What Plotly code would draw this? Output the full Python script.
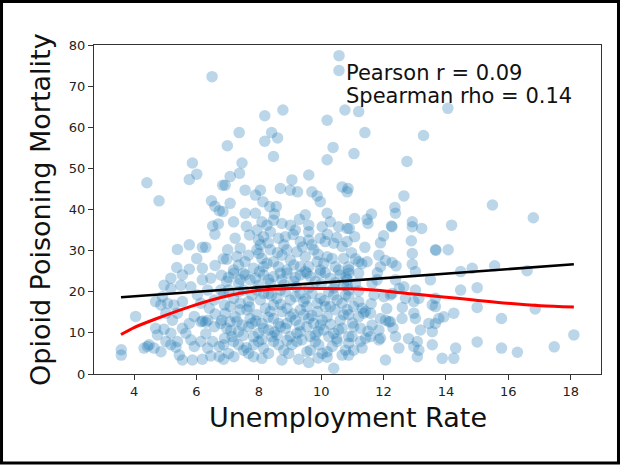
import plotly.graph_objects as go

# ---- data (unemployment rate, opioid poisoning mortality) ----
points_top = [
    (10.57, 77.4), (10.57, 73.8), (6.5, 72.3), (8.77, 64.2), (10.76, 64.2), (11.2, 63.8),
    (14.06, 64.6), (8.19, 62.8), (10.19, 61.7), (7.37, 58.7), (8.41, 58.7), (11.4, 58.7),
    (13.28, 58.0), (8.19, 56.6), (8.6, 57.4), (6.99, 55.5), (10.38, 55.1), (8.47, 52.9),
    (11.05, 53.6), (10.19, 52.1), (12.75, 51.7), (5.87, 51.3), (7.46, 51.3),
]

points_far_right = [
    (15.49, 41.1), (16.8, 38.0), (15.56, 26.3), (16.6, 25.1), (15.0, 21.0), (15.0, 16.2),
    (16.86, 15.8), (15.78, 13.5), (18.1, 9.5), (15.0, 7.8), (15.78, 6.3), (16.29, 5.3),
    (17.47, 6.6),
]

points_left_upper = [
    (4.41, 46.5), (4.8, 42.1), (5.77, 47.3), (6.01, 48.6), (6.84, 45.9), (6.48, 42.1),
    (6.59, 40.8), (6.73, 39.7), (6.52, 36.0), (6.7, 36.5), (6.59, 34.0), (5.39, 30.3),
    (5.77, 31.4), (6.19, 30.8), (6.3, 30.8), (6.01, 28.1), (5.37, 25.9), (5.77, 25.5),
    (6.19, 25.7), (6.86, 28.0),
]

points_left_lower = [
    (3.59, 5.9), (3.59, 4.6), (4.05, 14.0), (4.32, 6.3), (4.48, 7.1), (4.64, 6.3), (4.86, 5.4),
    (5.02, 7.9), (5.18, 7.1), (5.34, 6.5), (5.45, 4.6), (5.55, 3.4), (5.87, 3.4), (6.19, 3.6),
    (6.46, 4.4), (6.73, 4.2), (4.96, 21.6), (5.18, 23.3), (5.55, 24.1), (5.82, 21.2),
    (6.19, 22.9), (4.69, 17.6), (4.86, 16.8), (5.07, 17.2), (5.28, 16.8), (5.55, 17.6),
    (5.02, 14.8), (5.23, 13.1), (5.39, 14.8), (5.55, 11.1), (5.77, 12.3), (5.93, 14.0),
    (6.14, 12.7), (6.36, 13.1), (6.57, 11.5), (6.78, 12.3), (5.82, 8.3), (5.93, 6.7),
    (6.14, 7.9), (6.36, 6.3), (6.52, 7.9), (6.73, 6.7), (4.69, 11.1), (4.96, 10.9),
    (5.18, 9.9), (5.39, 7.9), (4.43, 6.7), (5.66, 9.9), (4.75, 9.5), (6.14, 17.2),
    (6.41, 16.0), (6.03, 19.2), (6.57, 18.0), (6.78, 20.4), (6.36, 20.4), (5.18, 20.8),
    (5.5, 21.6), (6.46, 23.3), (4.91, 18.8), (6.2, 12.9), (6.3, 12.6),
]

points_mid_upper = [
    (6.92, 45.9), (7.08, 48.0), (7.38, 48.8), (7.56, 44.7), (7.89, 43.5), (8.05, 44.7),
    (8.13, 41.9), (8.35, 40.7), (8.56, 40.7), (8.69, 45.1), (9.06, 47.2), (9.01, 44.7),
    (9.24, 44.3), (9.6, 48.4), (9.7, 44.3), (9.87, 43.3), (9.97, 41.9), (10.67, 45.5),
    (10.83, 44.3), (7.08, 41.5), (6.85, 39.5), (7.19, 37.0), (7.56, 39.1), (7.89, 39.1),
    (8.1, 37.0), (8.26, 36.2), (8.47, 37.4), (8.74, 36.6), (9.01, 36.2), (9.49, 38.7),
    (9.6, 36.2), (10.19, 39.1), (10.03, 35.8), (10.29, 37.0), (10.56, 35.8), (10.83, 35.4),
    (7.24, 33.0), (7.4, 30.6), (6.97, 27.9), (7.19, 25.3), (7.56, 27.3), (7.94, 35.0),
    (7.99, 32.6), (8.15, 33.4), (8.37, 34.6), (8.63, 33.0), (8.85, 33.4), (8.9, 30.2),
    (9.17, 35.0), (9.33, 32.2), (9.6, 32.6), (9.97, 33.0), (10.13, 32.2), (10.4, 31.8),
    (10.67, 31.0), (10.83, 32.2), (7.94, 30.2), (8.1, 28.1), (8.37, 30.2), (8.47, 27.3),
    (8.74, 28.9), (9.01, 27.7), (9.22, 29.7), (9.49, 28.5), (9.76, 30.2), (9.87, 27.3),
    (10.19, 28.5), (10.45, 26.1), (10.72, 28.1), (7.83, 25.7), (8.15, 26.1), (8.9, 25.3),
    (9.33, 26.1), (9.97, 25.3),
    (7.35, 26.5), (7.67, 28.9), (8.26, 26.9), (8.63, 26.1), (9.12, 26.5), (9.6, 26.1),
    (10.08, 26.9), (10.35, 28.1), (10.56, 25.3), (10.88, 26.1), (7.51, 24.5), (8.69, 24.5),
    (9.54, 24.5), (8.05, 31.4), (9.7, 31.4),
]

points_mid_lower = [
    (7.19, 24.5), (7.56, 24.1), (7.89, 23.3), (8.15, 24.1), (8.47, 23.7), (8.90, 24.5),
    (9.33, 24.1), (9.65, 23.7), (9.97, 24.5), (10.29, 23.3), (10.61, 24.1), (10.83, 22.9),
    (6.97, 22.5), (7.35, 22.0), (8.37, 22.0), (9.12, 22.5),
    (6.87, 19.6), (7.19, 18.4), (7.51, 20.4), (7.78, 19.2), (8.05, 18.0), (8.31, 19.6),
    (8.58, 18.4), (8.85, 20.0), (9.17, 18.8), (9.44, 17.6), (9.70, 19.6), (9.97, 18.4),
    (10.24, 20.0), (10.51, 18.0), (10.78, 19.2), (7.08, 16.4), (7.40, 17.2),
    (6.92, 14.8), (7.24, 13.9), (7.62, 15.6), (7.94, 14.4), (8.21, 16.0), (8.47, 13.5),
    (8.74, 15.2), (9.01, 13.9), (9.33, 15.6), (9.60, 13.5), (9.87, 15.2), (10.19, 13.9),
    (10.45, 15.6), (10.72, 14.4), (7.78, 12.3), (8.90, 12.3),
    (6.97, 11.1), (7.35, 10.3), (7.67, 11.5), (7.99, 9.9), (8.31, 10.7), (8.58, 9.5),
    (8.85, 11.1), (9.22, 9.9), (9.54, 11.5), (9.81, 9.5), (10.08, 10.7), (10.40, 9.9),
    (10.67, 11.1), (10.88, 9.1),
    (6.87, 7.1), (7.19, 7.9), (7.51, 5.8), (7.83, 7.1), (8.15, 6.3), (8.47, 7.9),
    (8.80, 5.8), (9.06, 7.1), (9.38, 8.3), (9.65, 5.8), (9.92, 7.1), (10.19, 5.4),
    (10.51, 7.9), (10.78, 5.8),
    (6.87, 3.6), (7.83, 4.2), (8.74, 3.4), (9.28, 3.6), (9.60, 2.8), (10.19, 4.1), (10.40, 1.4),
]

points_mid_dense = [
    (7.03, 23.5), (7.40, 23.0), (7.72, 22.9), (8.02, 24.9), (8.31, 23.0), (8.74, 22.9),
    (9.17, 23.5), (9.49, 24.9), (9.81, 22.5), (10.13, 24.6), (10.45, 22.2), (10.72, 21.6),
    (7.03, 20.4), (7.35, 20.0), (7.67, 17.6), (7.94, 20.4), (8.15, 19.6), (8.47, 16.8),
    (8.69, 20.4), (9.01, 18.0), (9.33, 19.6), (9.54, 16.4), (9.87, 17.2), (10.13, 16.4),
    (10.40, 19.2), (10.67, 17.2), (10.88, 20.4),
    (6.81, 13.1), (7.08, 12.7), (7.40, 15.6), (7.72, 13.5), (8.10, 12.3), (8.37, 15.2),
    (8.63, 12.3), (8.90, 16.0), (9.17, 13.1), (9.44, 14.4), (9.76, 12.3), (10.03, 13.1),
    (10.29, 16.4), (10.61, 13.1), (10.83, 15.6),
    (7.14, 9.1), (7.46, 11.9), (7.83, 9.1), (8.15, 11.1), (8.42, 9.1), (8.69, 11.5),
    (9.01, 9.1), (9.33, 10.3), (9.65, 9.1), (9.97, 11.9), (10.24, 9.1), (10.56, 10.7),
    (7.03, 5.0), (7.35, 7.1), (7.67, 5.0), (7.99, 7.9), (8.31, 5.0), (8.63, 7.1),
    (8.96, 5.0), (9.22, 7.9), (9.54, 5.4), (9.81, 7.9), (10.03, 5.0), (10.35, 6.7),
    (10.67, 4.6),
]

points_core_extra = [
    (7.3, 12.8), (7.5, 9.4), (7.7, 16.3), (7.9, 12.9), (8.1, 8.4), (8.3, 13.8), (8.5, 10.2),
    (8.7, 16.9), (8.9, 8.2), (9.1, 14.6), (9.3, 11.9), (9.5, 18.3), (9.7, 14.2), (9.9, 10.4),
    (10.1, 17.8), (10.3, 12.1), (10.5, 8.6), (6.9, 16.8), (7.1, 10.6), (7.6, 6.4),
    (8.0, 21.6), (8.4, 19.1), (8.8, 21.7), (9.2, 21.2), (9.6, 20.9), (10.0, 21.8),
    (10.4, 20.9), (10.8, 23.5), (7.7, 33.8), (8.0, 29.3), (8.3, 31.9), (8.6, 29.5),
    (8.8, 31.4), (9.1, 33.9), (9.4, 30.9), (9.6, 34.6), (9.9, 29.1), (10.2, 34.0),
    (10.5, 33.2), (7.6, 35.9), (8.5, 38.9), (9.3, 37.6), (6.6, 26.4), (6.8, 24.0),
    (7.0, 30.2), (7.3, 28.6), (6.3, 9.8), (6.6, 14.6), (6.9, 8.7), (7.2, 4.2), (8.1, 3.8),
    (9.9, 3.9), (11.2, 20.2), (11.6, 17.1), (12.1, 15.9), (12.5, 20.8), (11.8, 24.6),
    (12.4, 26.3), (11.4, 30.8), (12.0, 33.6), (11.0, 12.4), (11.5, 10.4), (12.3, 11.2),
    (12.8, 8.6), (12.6, 16.2),
]

points_right_upper = [
    (10.86, 45.1), (12.65, 43.3), (12.36, 40.5), (12.38, 39.1), (11.07, 37.8), (11.47, 37.6),
    (11.61, 38.9), (11.5, 36.6), (10.9, 35.4), (11.07, 33.4), (12.27, 35.8), (12.25, 36.0),
    (12.92, 37.0), (12.92, 35.8), (13.22, 35.4), (14.18, 36.2), (11.9, 31.9), (12.89, 32.4),
    (12.92, 29.3), (13.66, 30.2), (13.68, 30.1), (14.07, 30.2), (10.97, 29.5), (11.2, 27.3),
    (11.47, 27.3), (11.85, 28.9), (12.06, 27.6), (12.27, 27.1), (11.9, 26.1), (12.92, 26.7),
    (10.88, 25.3), (13.02, 24.9), (14.47, 24.9), (14.84, 25.7), (11.3, 26.8), (11.1, 28.0),
]

points_right_lower = [
    (10.88, 24.5), (11.20, 24.5), (10.83, 21.6), (11.10, 22.0), (11.63, 22.0), (11.79, 22.9),
    (12.38, 22.9), (12.65, 21.2), (13.02, 20.4), (13.50, 22.9), (13.66, 18.4), (14.47, 20.4),
    (10.88, 18.8), (11.20, 17.6), (11.04, 16.4), (11.31, 16.0), (11.42, 15.2), (11.69, 19.2),
    (12.01, 18.8), (12.22, 19.2), (12.27, 19.6), (12.70, 18.4), (12.97, 17.6), (13.13, 18.4),
    (10.88, 14.4), (11.20, 13.9), (11.36, 14.8), (11.58, 14.8), (11.90, 13.5), (12.06, 13.1),
    (12.22, 12.7), (12.59, 13.5), (12.97, 14.8), (13.02, 13.5), (13.56, 16.8), (13.66, 16.4),
    (13.77, 13.5), (13.93, 13.9), (14.25, 14.8),
    (11.04, 11.5), (11.26, 11.1), (11.63, 11.9), (11.85, 10.7), (11.90, 8.7), (12.17, 12.7),
    (12.38, 9.1), (13.18, 10.7), (13.45, 12.3), (13.56, 10.3), (13.66, 12.3),
    (10.99, 9.1), (11.26, 7.9), (11.42, 8.7), (11.58, 9.1), (11.85, 8.3), (10.88, 7.5),
    (11.04, 5.8), (11.31, 6.3), (12.49, 6.3), (12.97, 6.7), (13.08, 7.9), (13.13, 5.8),
    (13.56, 7.1), (14.31, 6.3), (10.88, 4.6), (12.06, 3.4), (13.08, 4.2), (13.88, 3.8),
    (14.25, 3.8),
]

# linear fit (black) and lowess curve (red)
fit_x = [3.58, 18.1]
fit_y = [18.65, 26.67]
lowess_x = [3.58, 4.0, 4.73, 5.8, 6.87, 7.94, 9.01, 10.08, 10.94, 11.69, 12.76, 13.83, 14.9, 15.97, 17.04, 18.1]
lowess_y = [9.6, 11.3, 13.5, 16.4, 18.8, 20.3, 20.8, 20.8, 20.7, 20.4, 19.6, 18.8, 18.0, 17.2, 16.6, 16.3]

x_ticks = [4, 6, 8, 10, 12, 14, 16, 18]
y_ticks = [0, 10, 20, 30, 40, 50, 60, 70, 80]
stats_lines = ["Pearson r = 0.09", "Spearman rho = 0.14"]

all_points = (points_top + points_far_right + points_left_upper + points_left_lower
              + points_mid_upper + points_mid_lower + points_mid_dense + points_core_extra
              + points_right_upper + points_right_lower)
unemployment = [p[0] for p in all_points]
mortality = [p[1] for p in all_points]

FONT = "DejaVu Sans"
fig = go.Figure()
fig.add_trace(go.Scatter(
    x=unemployment, y=mortality, mode="markers",
    marker=dict(size=11.5, color="rgba(31,119,180,0.3)", line=dict(width=0)),
    hoverinfo="skip", showlegend=False))
fig.add_trace(go.Scatter(
    x=fit_x, y=fit_y, mode="lines", line=dict(color="black", width=2.6),
    hoverinfo="skip", showlegend=False))
fig.add_trace(go.Scatter(
    x=lowess_x, y=lowess_y, mode="lines", line=dict(color="red", width=3, shape="spline", smoothing=0.8),
    hoverinfo="skip", showlegend=False))

axis_common = dict(
    showline=True, mirror=True, linecolor="#333", linewidth=1.2,
    ticks="outside", ticklen=5, tickwidth=1.2, tickcolor="#333",
    tickfont=dict(family=FONT, size=13, color="#222"),
    showgrid=False, zeroline=False,
)
fig.update_xaxes(range=[2.715, 18.97], tickvals=x_ticks, **axis_common)
fig.update_yaxes(range=[0, 80], tickvals=y_ticks, **axis_common)

annotations = [
    dict(text=stats_lines[0], x=10.74, y=73.3, xref="x", yref="y", xanchor="left",
         yanchor="middle", showarrow=False, font=dict(family=FONT, size=21, color="#111")),
    dict(text=stats_lines[1], x=10.74, y=67.5, xref="x", yref="y", xanchor="left",
         yanchor="middle", showarrow=False, font=dict(family=FONT, size=21, color="#111")),
    dict(text="Unemployment Rate", x=0.5, y=-0.1307, xref="paper", yref="paper",
         xanchor="center", yanchor="middle", showarrow=False,
         font=dict(family=FONT, size=27, color="#111")),
    dict(text="Opioid Poisoning Mortality", x=-0.1045, y=0.4985, xref="paper", yref="paper",
         xanchor="center", yanchor="middle", textangle=-90, showarrow=False,
         font=dict(family=FONT, size=27, color="#111")),
]

fig.update_layout(
    width=621, height=465,
    margin=dict(l=94, r=20, t=45, b=91, pad=0),
    paper_bgcolor="white", plot_bgcolor="white",
    showlegend=False,
    annotations=annotations,
    shapes=[dict(type="rect", xref="paper", yref="paper",
                 x0=-0.1824, x1=1.0345, y0=-0.2705, y1=1.1322,
                 line=dict(color="black", width=3), fillcolor="rgba(0,0,0,0)")],
)

fig.write_html("out.html")
